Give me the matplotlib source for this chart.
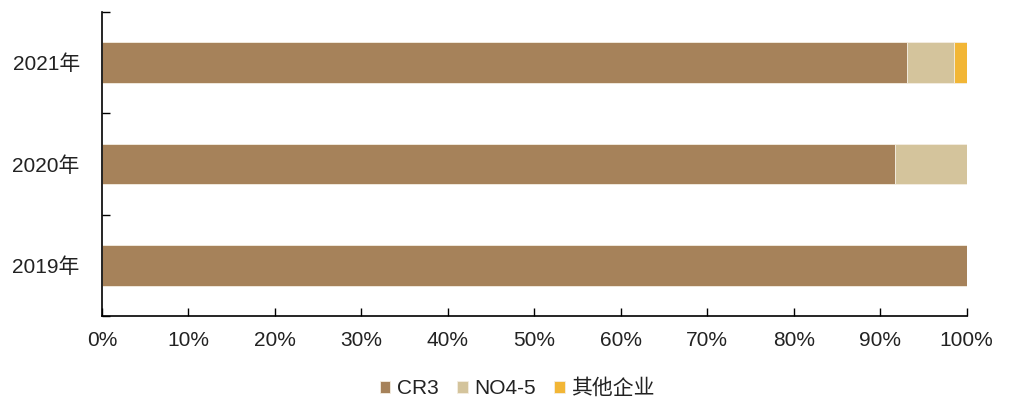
import matplotlib
matplotlib.use("Agg")
import matplotlib.pyplot as plt
from matplotlib.ticker import MultipleLocator, FuncFormatter
import numpy as np

plt.rcParams['font.family'] = ['Liberation Sans', 'Noto Sans CJK SC']

years = ['2019年', '2020年', '2021年']
series_names = ['CR3', 'NO4-5', '其他企业']
cr3 = [100.0, 91.7, 93.1]
no4_5 = [0.0, 8.3, 5.4]
others = [0.0, 0.0, 1.5]
colors = ['#A6825A', '#D4C49C', '#F2B636']

fig = plt.figure(figsize=(10.10, 4.01), dpi=100)
ax = fig.add_axes([0.101, 0.212, 0.856, 0.758])

y = np.arange(len(years))
left = np.zeros(len(years))
for vals, name, c in zip([cr3, no4_5, others], series_names, colors):
    ax.barh(y, vals, left=left, height=0.4, color=c, label=name,
            edgecolor='#F4EEE2', linewidth=0.6)
    left += np.array(vals)

ax.set_xlim(0, 100)
ax.set_ylim(-0.5, 2.5)
ax.xaxis.set_major_locator(MultipleLocator(10))
ax.xaxis.set_major_formatter(FuncFormatter(lambda v, p: f'{int(round(v))}%'))
ax.set_yticks(y)
ax.set_yticklabels(years)
ax.set_yticks([-0.5, 0.5, 1.5, 2.5], minor=True)
ax.tick_params(axis='y', which='major', length=0, pad=16, labelsize=15,
               labelcolor='#222222')
ax.tick_params(axis='y', which='minor', length=6, direction='in', width=1)
ax.tick_params(axis='x', length=6, direction='in', width=1, labelsize=15,
               pad=11, labelcolor='#222222')

for s in ['top', 'right']:
    ax.spines[s].set_visible(False)
for s in ['left', 'bottom']:
    ax.spines[s].set_linewidth(1.2)
    ax.spines[s].set_color('black')

fig.legend(loc='center', bbox_to_anchor=(0.512, 0.032), ncol=3, frameon=False,
           fontsize=15, handlelength=0.5, handleheight=0.5, handletextpad=0.3,
           columnspacing=0.9, labelcolor='#222222')

fig.savefig('out.png', dpi=100)
